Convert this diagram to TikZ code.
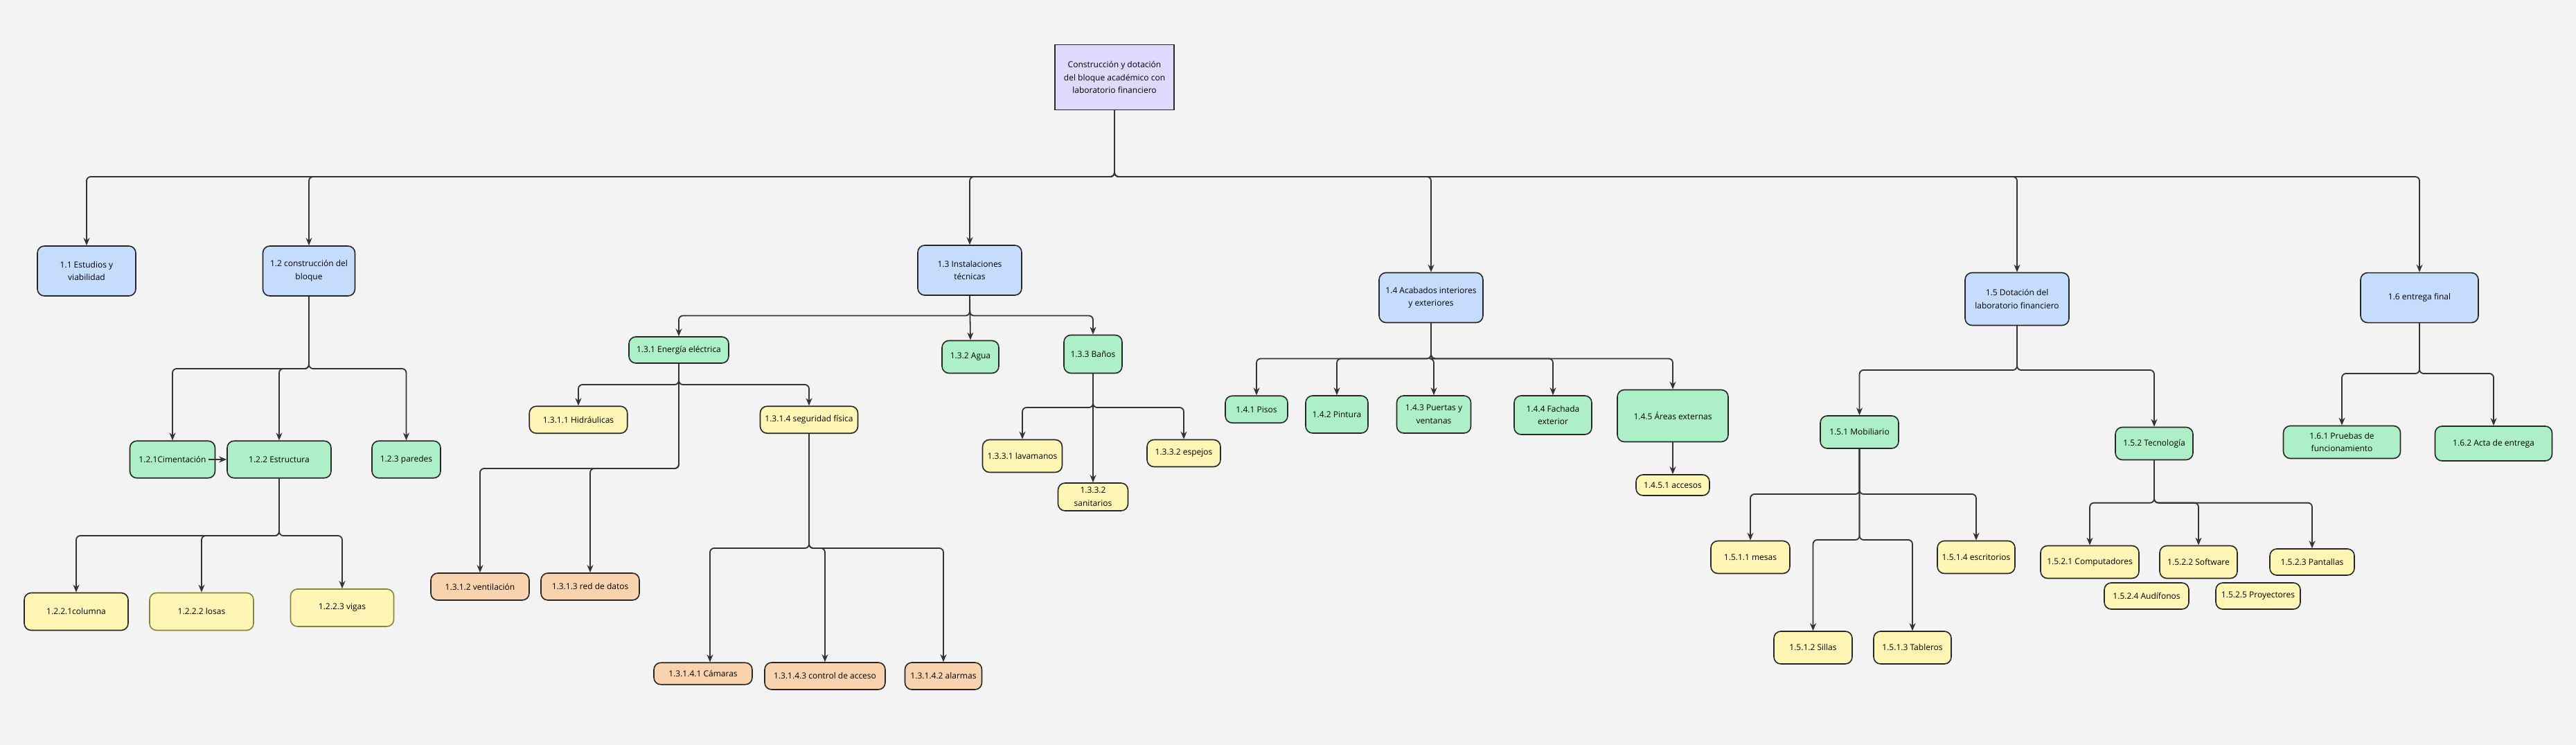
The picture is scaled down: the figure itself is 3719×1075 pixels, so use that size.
\documentclass[tikz,border=0pt]{standalone}
\usepackage{fontspec}
\setmainfont{Open Sans}
\usetikzlibrary{arrows.meta}
\definecolor{fondo}{HTML}{F3F3F3}
\definecolor{linea}{HTML}{333333}
\definecolor{lila}{HTML}{DDDAFC}
\definecolor{azul}{HTML}{C5DCFC}
\definecolor{verde}{HTML}{ADF0C8}
\definecolor{amarillo}{HTML}{FFF6B5}
\definecolor{durazno}{HTML}{F8D3AD}
\definecolor{oliva}{HTML}{85853F}
\begin{document}
\begin{tikzpicture}[x=1pt,y=-1pt,
  caja/.style={draw=black!85,line width=1.6pt,rounded corners=10pt,align=center,inner sep=2pt,
    font=\fontsize{12}{18.6}\selectfont},
  raiz/.style={caja,rounded corners=0pt,fill=lila},
  nivel1/.style={caja,fill=azul},
  nivel2/.style={caja,fill=verde},
  nivel3/.style={caja,fill=amarillo},
  nivel4/.style={caja,fill=durazno},
  tam/.style 2 args={minimum width=#1pt,minimum height=#2pt},
  flecha/.style={draw=linea,line width=1.8pt,rounded corners=6pt,-{Stealth[length=11pt,width=9pt]}}]
\fill[fondo] (0,0) rectangle (3719,1075);
\useasboundingbox (0,0) rectangle (3719,1075);

% raiz y primer nivel
\node[raiz,tam={172}{94}] (root) at (1609,111.5) {Construcción y dotación\\del bloque académico con\\laboratorio financiero};
\node[nivel1,tam={142}{72}] (n11) at (125,391) {1.1 Estudios y\\viabilidad};
\node[nivel1,tam={133}{72}] (n12) at (446,391) {1.2 construcción del\\bloque};
\node[nivel1,tam={150}{72}] (n13) at (1400,390) {1.3 Instalaciones\\técnicas};
\node[nivel1,tam={150}{72}] (n14) at (2066,429.5) {1.4 Acabados interiores\\y exteriores};
\node[nivel1,tam={150}{76}] (n15) at (2912,431.5) {1.5 Dotación del\\laboratorio financiero};
\node[nivel1,tam={170}{72}] (n16) at (3493,429.6) {1.6 entrega final};

% 1.2
\node[nivel2,tam={123}{53.5}] (n121) at (249,663) {1.2.1Cimentación};
\node[nivel2,tam={150}{53.5}] (n122) at (403,663) {1.2.2 Estructura};
\node[nivel2,tam={99}{53.5}] (n123) at (586.5,663) {1.2.3 paredes};
\node[nivel3,tam={150}{54}] (n1221) at (110,882.5) {1.2.2.1columna};
\node[nivel3,draw=oliva,tam={150}{54}] (n1222) at (291,882.5) {1.2.2.2 losas};
\node[nivel3,draw=oliva,tam={149}{54}] (n1223) at (494,877) {1.2.2.3 vigas};

% 1.3
\node[nivel2,tam={144}{38}] (n131) at (980,505) {1.3.1 Energía eléctrica};
\node[nivel2,tam={82}{47}] (n132) at (1401,515) {1.3.2 Agua};
\node[nivel2,tam={84}{55}] (n133) at (1578,511) {1.3.3 Baños};
\node[nivel3,tam={141.5}{39}] (n1311) at (835,605.7) {1.3.1.1 Hidráulicas};
\node[nivel3,tam={141}{39}] (n1314) at (1168,605.7) {1.3.1.4 seguridad física};
\node[nivel4,tam={142}{39}] (n1312) at (693,846.5) {1.3.1.2 ventilación};
\node[nivel4,tam={142}{39}] (n1313) at (852,846.5) {1.3.1.3 red de datos};
\node[nivel4,tam={142}{31.5}] (n13141) at (1015,972) {1.3.1.4.1 Cámaras};
\node[nivel4,tam={174}{39}] (n13143) at (1191,975.5) {1.3.1.4.3 control de acceso};
\node[nivel4,tam={111}{39}] (n13142) at (1362,975.5) {1.3.1.4.2 alarmas};
\node[nivel3,tam={115}{47}] (n1331) at (1476,658) {1.3.3.1 lavamanos};
\node[nivel3,tam={101}{40}] (n1332) at (1578,717) {1.3.3.2\\sanitarios};
\node[nivel3,tam={106}{39}] (n1333) at (1709,654) {1.3.3.2 espejos};

% 1.4
\node[nivel2,tam={90}{39}] (n141) at (1814,590.7) {1.4.1 Pisos};
\node[nivel2,tam={90}{54}] (n142) at (1930,598) {1.4.2 Pintura};
\node[nivel2,tam={107}{54}] (n143) at (2070,598) {1.4.3 Puertas y\\ventanas};
\node[nivel2,tam={112}{56}] (n144) at (2242,599) {1.4.4 Fachada\\exterior};
\node[nivel2,tam={160}{75}] (n145) at (2415,600) {1.4.5 Áreas externas};
\node[nivel3,tam={106}{30}] (n1451) at (2415,700) {1.4.5.1 accesos};

% 1.5 y 1.6
\node[nivel2,tam={113}{47}] (n151) at (2684.5,623.5) {1.5.1 Mobiliario};
\node[nivel2,tam={112}{47}] (n152) at (3110,640) {1.5.2 Tecnología};
\node[nivel2,tam={169}{47}] (n161) at (3381,638) {1.6.1 Pruebas de\\funcionamiento};
\node[nivel2,tam={169}{50}] (n162) at (3600,640) {1.6.2 Acta de entrega};
\node[nivel3,tam={114}{47}] (n1511) at (2527,804) {1.5.1.1 mesas};
\node[nivel3,tam={112}{47}] (n1514) at (2853,804) {1.5.1.4 escritorios};
\node[nivel3,tam={113}{47}] (n1512) at (2617.5,934.5) {1.5.1.2 Sillas};
\node[nivel3,tam={112}{47}] (n1513) at (2761,934.5) {1.5.1.3 Tableros};
\node[nivel3,tam={142}{47}] (n1521) at (3017,811) {1.5.2.1 Computadores};
\node[nivel3,tam={112}{47}] (n1522) at (3174,811) {1.5.2.2 Software};
\node[nivel3,tam={122}{38}] (n1523) at (3338,811) {1.5.2.3 Pantallas};
\node[nivel3,tam={122}{38}] (n1524) at (3099,860) {1.5.2.4 Audífonos};
\node[nivel3,tam={122}{38}] (n1525) at (3260,860) {1.5.2.5 Proyectores};

% barras de reparto
\coordinate (b0) at (0,255);
\coordinate (b12) at (0,532);
\coordinate (b13) at (0,455.5);
\coordinate (b131) at (0,555);
\coordinate (b131b) at (0,676);
\coordinate (b133) at (0,588);
\coordinate (b14) at (0,517.5);
\coordinate (b122) at (0,773);
\coordinate (b1314) at (0,791);
\coordinate (b15) at (0,534);
\coordinate (b16) at (0,539);
\coordinate (b151) at (0,713);
\coordinate (b151b) at (0,779);
\coordinate (b152) at (0,725.6);

% conectores
\foreach \h in {n11,n12,n13,n14,n15,n16}
  \draw[flecha] (root.south) |- (b0 -| \h.north) -- (\h.north);
\foreach \h in {n121,n122,n123}
  \draw[flecha] (n12.south) |- (b12 -| \h.north) -- (\h.north);
\coordinate (c121) at ([xshift=-10pt]n121.east);
\draw[flecha] (c121) -- (n122.west);
\foreach \h in {n1221,n1222,n1223}
  \draw[flecha] (n122.south) |- (b122 -| \h.north) -- (\h.north);
\foreach \h in {n131,n133}
  \draw[flecha] (n13.south) |- (b13 -| \h.north) -- (\h.north);
\draw[flecha] (n13.south) -- (n132.north);
\foreach \h in {n1311,n1314}
  \draw[flecha] (n131.south) |- (b131 -| \h.north) -- (\h.north);
\foreach \h in {n1312,n1313}
  \draw[flecha] (n131.south) |- (b131b -| \h.north) -- (\h.north);
\coordinate (c13141) at ([xshift=10pt]n13141.north);
\draw[flecha] (n1314.south) |- (b1314 -| c13141) -- (c13141);
\foreach \h in {n13143,n13142}
  \draw[flecha] (n1314.south) |- (b1314 -| \h.north) -- (\h.north);
\foreach \h in {n1331,n1333}
  \draw[flecha] (n133.south) |- (b133 -| \h.north) -- (\h.north);
\draw[flecha] (n133.south) -- (n1332.north);
\foreach \h in {n141,n142,n143,n144,n145}
  \draw[flecha] (n14.south) |- (b14 -| \h.north) -- (\h.north);
\draw[flecha] (n145.south) -- (n1451.north);
\foreach \h in {n151,n152}
  \draw[flecha] (n15.south) |- (b15 -| \h.north) -- (\h.north);
\foreach \h in {n161,n162}
  \draw[flecha] (n16.south) |- (b16 -| \h.north) -- (\h.north);
\foreach \h in {n1511,n1514}
  \draw[flecha] (n151.south) |- (b151 -| \h.north) -- (\h.north);
\foreach \h in {n1512,n1513}
  \draw[flecha] (n151.south) |- (b151b -| \h.north) -- (\h.north);
\foreach \h in {n1521,n1522,n1523}
  \draw[flecha] (n152.south) |- (b152 -| \h.north) -- (\h.north);
\end{tikzpicture}
\end{document}
